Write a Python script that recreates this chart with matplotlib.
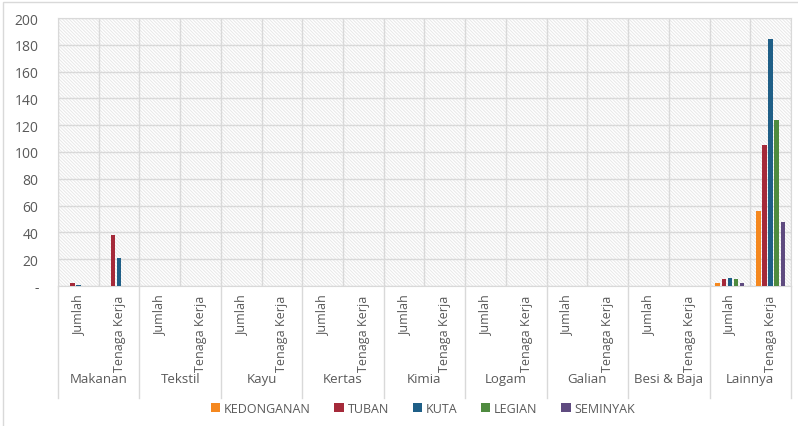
import numpy as np
import matplotlib
matplotlib.use("Agg")
import matplotlib.pyplot as plt
from matplotlib.patches import Rectangle
from matplotlib.transforms import blended_transform_factory

# data
groups = ["Makanan", "Tekstil", "Kayu", "Kertas", "Kimia", "Logam", "Galian", "Besi & Baja", "Lainnya"]
subcats = ["Jumlah", "Tenaga Kerja"]
series = ["KEDONGANAN", "TUBAN", "KUTA", "LEGIAN", "SEMINYAK"]

# order: group0 Jumlah, group0 Tenaga Kerja, group1 Jumlah, ...
kedonganan = [0, 0, 0, 0, 0, 0, 0, 0, 0, 0, 0, 0, 0, 0, 0, 0, 2, 56]
tuban      = [2, 38, 0, 0, 0, 0, 0, 0, 0, 0, 0, 0, 0, 0, 0, 0, 5, 105]
kuta       = [1, 21, 0, 0, 0, 0, 0, 0, 0, 0, 0, 0, 0, 0, 0, 0, 6, 184]
legian     = [0, 0, 0, 0, 0, 0, 0, 0, 0, 0, 0, 0, 0, 0, 0, 0, 5, 124]
seminyak   = [0, 0, 0, 0, 0, 0, 0, 0, 0, 0, 0, 0, 0, 0, 0, 0, 2, 48]
values = [kedonganan, tuban, kuta, legian, seminyak]

colors = ["#F5881F", "#A52A3A", "#1F5F87", "#4F8B3F", "#5F4B80"]

plt.rcParams["font.family"] = ["Open Sans", "DejaVu Sans"]
plt.rcParams["hatch.linewidth"] = 0.7
txt = "#595959"
grid = "#d9d9d9"

fig = plt.figure(figsize=(7.98, 4.27), dpi=100)
ax = fig.add_axes([0.0727, 0.328, 0.9185, 0.6275])

# textured background of plot area
bg = Rectangle((0, 0), 1, 1, transform=ax.transAxes, facecolor="white",
               edgecolor="#e8e8e8", hatch="\\\\\\\\\\\\\\\\\\\\", linewidth=0, zorder=0)
ax.add_patch(bg)

n = len(groups) * len(subcats)
x = np.arange(n)
slot = 0.15
bw = 0.11
for i, (name, vals) in enumerate(zip(series, values)):
    ax.bar(x + (i - 2) * slot, vals, width=bw, color=colors[i], label=name, zorder=3)

ax.set_xlim(-0.5, n - 0.5)
ax.set_ylim(0, 200)
yt = np.arange(0, 201, 20)
ax.set_yticks(yt)
ax.set_yticklabels(["-"] + [str(v) for v in yt[1:]], color=txt, fontsize=10)
ax.tick_params(axis="y", length=0, pad=14)

ax.set_xticks(x)
ax.set_xticklabels(subcats * len(groups), rotation=90, color=txt, fontsize=9, va="top")
ax.tick_params(axis="x", length=0, pad=6)
ax.set_xticks(np.arange(-0.5, n, 1.0), minor=True)
ax.tick_params(axis="x", which="minor", length=0)

ax.grid(axis="y", color=grid, linewidth=1, zorder=1)
ax.grid(axis="x", which="minor", color=grid, linewidth=1, zorder=1)
ax.grid(axis="x", which="major", visible=False)
ax.set_axisbelow(True)
for s in ax.spines.values():
    s.set_color(grid)

# group separators and labels
tr = blended_transform_factory(ax.transData, ax.transAxes)
for k in range(len(groups) + 1):
    xs = -0.5 + 2 * k
    ax.plot([xs, xs], [0, -0.42], color=grid, linewidth=1, transform=tr, clip_on=False)
for k, g in enumerate(groups):
    ax.text(2 * k + 0.5, -0.345, g, transform=tr, ha="center", va="center",
            color=txt, fontsize=9.5)

leg = fig.legend(loc="center", bbox_to_anchor=(0.53, 0.042), ncol=5, frameon=False,
                 fontsize=9, handlelength=0.75, handleheight=0.75, handletextpad=0.3,
                 columnspacing=1.9)
for t in leg.get_texts():
    t.set_color(txt)

# outer chart border
fig.patches.append(Rectangle((3 / 798, -0.01), 1.0, 1 - 3 / 427 + 0.01, transform=fig.transFigure,
                             fill=False, edgecolor=grid, linewidth=1))

fig.savefig("out.png", dpi=100)
